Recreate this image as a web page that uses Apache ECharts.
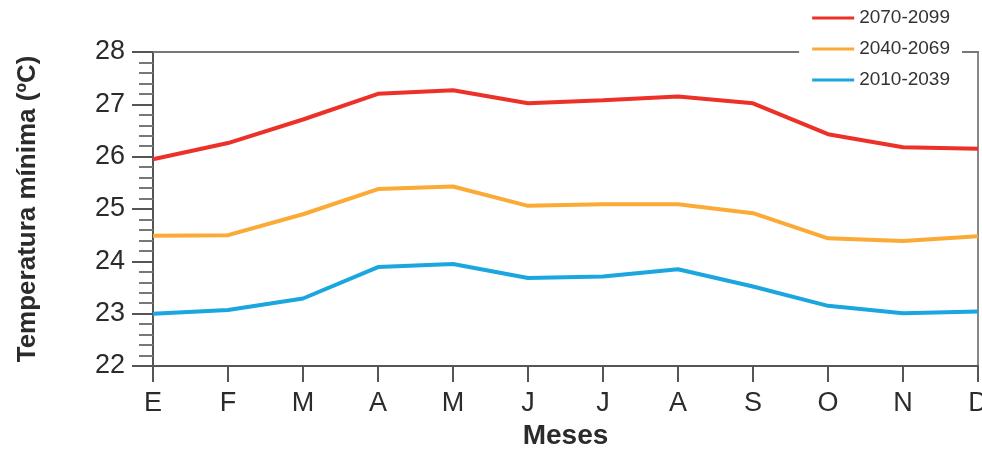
<!DOCTYPE html>
<html>
<head>
<meta charset="utf-8">
<script src="https://cdn.jsdelivr.net/npm/echarts@6/dist/echarts.min.js"></script>
<style>
  html, body { margin: 0; padding: 0; background: #fff; }
  #chart { width: 982px; height: 452px; }
</style>
</head>
<body>
<div id="chart"></div>
<script>
// Monthly minimum temperature projections for three periods
const months = ['E', 'F', 'M', 'A', 'M', 'J', 'J', 'A', 'S', 'O', 'N', 'D'];
const periodNames = ['2070-2099', '2040-2069', '2010-2039'];
const temp2070 = [25.95, 26.26, 26.71, 27.20, 27.27, 27.02, 27.08, 27.15, 27.02, 26.43, 26.18, 26.15];
const temp2040 = [24.49, 24.50, 24.90, 25.38, 25.43, 25.06, 25.09, 25.09, 24.92, 24.44, 24.39, 24.48];
const temp2010 = [23.00, 23.07, 23.29, 23.89, 23.95, 23.68, 23.71, 23.85, 23.52, 23.15, 23.01, 23.04];
const yTicks = [22, 23, 24, 25, 26, 27, 28];

const colors = ['#ec3129', '#fbaa36', '#1ba6df'];
const font = '"Liberation Sans", Arial, sans-serif';
const ink = '#2b2b2b';

const chart = echarts.init(document.getElementById('chart'));

const seriesData = [temp2070, temp2040, temp2010];

chart.setOption({
  animation: false,
  backgroundColor: '#fff',
  textStyle: { fontFamily: font },
  grid: { left: 153, right: 4, top: 52, bottom: 86, containLabel: false, outerBoundsMode: 'none' },
  legend: {
    orient: 'vertical',
    right: 20,
    top: 4,
    padding: [4, 12, 6, 13],
    backgroundColor: '#fff',
    itemWidth: 42,
    itemHeight: 3,
    itemGap: 11,
    itemTextGap: 8,
    icon: 'rect',
    data: periodNames,
    textStyle: { fontFamily: font, fontSize: 19, color: '#333', lineHeight: 20 },
    z: 10
  },
  xAxis: [{
    type: 'category',
    data: months,
    boundaryGap: false,
    name: 'Meses',
    nameLocation: 'middle',
    nameGap: 56,
    nameTextStyle: { fontFamily: font, fontSize: 28, fontWeight: 'bold', color: ink },
    axisLine: { lineStyle: { color: '#555', width: 2 } },
    axisTick: { show: true, length: 16, inside: false, lineStyle: { color: '#555', width: 2 }, alignWithLabel: true },
    axisLabel: { fontFamily: font, fontSize: 27, color: ink, margin: 24 },
    splitLine: { show: false }
  }, {
    type: 'category',
    data: months,
    boundaryGap: false,
    position: 'top',
    axisLine: { show: true, lineStyle: { color: '#777', width: 2 } },
    axisTick: { show: false },
    axisLabel: { show: false },
    splitLine: { show: false }
  }],
  yAxis: [{
    type: 'value',
    min: 22,
    max: 28,
    interval: 1,
    name: 'Temperatura mínima (ºC)',
    nameLocation: 'middle',
    nameGap: 112,
    nameRotate: 90,
    nameTextStyle: { fontFamily: font, fontSize: 26, fontWeight: 'bold', color: ink },
    axisLine: { show: true, lineStyle: { color: '#555', width: 2 } },
    axisTick: { show: true, length: 21, lineStyle: { color: '#555', width: 2 } },
    minorTick: { show: true, splitNumber: 5, length: 14, lineStyle: { color: '#777', width: 2 } },
    axisLabel: {
      fontFamily: font, fontSize: 27, color: ink, margin: 28,
      formatter: v => (yTicks.includes(v) ? String(v) : '')
    },
    splitLine: { show: false }
  }, {
    type: 'value',
    min: 22,
    max: 28,
    interval: 1,
    position: 'right',
    axisLine: { show: true, lineStyle: { color: '#888', width: 2 } },
    axisTick: { show: false },
    axisLabel: { show: false },
    splitLine: { show: false }
  }],
  series: periodNames.map((name, i) => ({
    name,
    type: 'line',
    data: seriesData[i],
    symbol: 'none',
    color: colors[i],
    lineStyle: { color: colors[i], width: 4 },
    z: 3 - i
  }))
});
</script>
</body>
</html>
